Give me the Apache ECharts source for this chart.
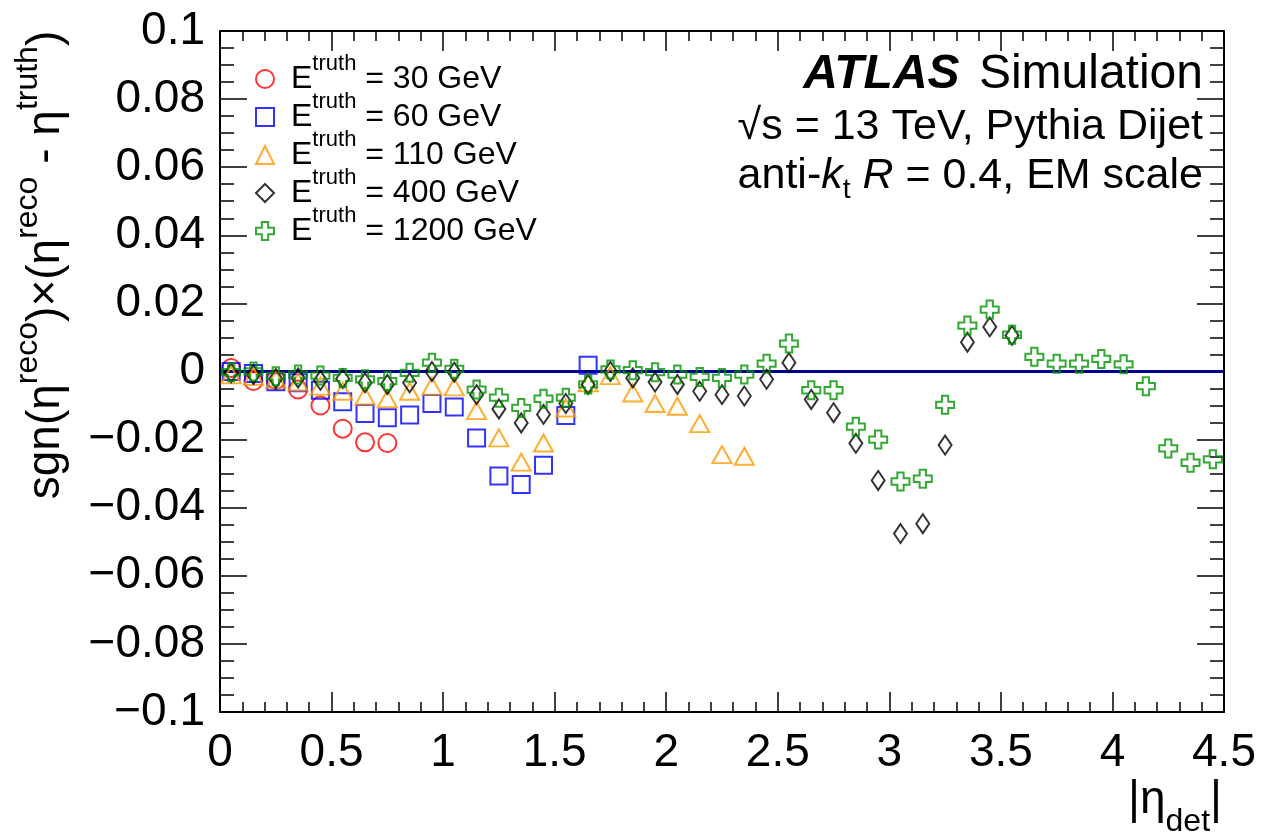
<!DOCTYPE html>
<html><head><meta charset="utf-8">
<script src="https://cdn.jsdelivr.net/npm/echarts@6/dist/echarts.min.js"></script>
<style>html,body{margin:0;padding:0;background:#fff}#c{width:1287px;height:838px}</style>
</head><body><div id="c"></div>
<script>
// |eta_det| bin centres
const etaBins = [0.05,0.15,0.25,0.35,0.45,0.55,0.65,0.75,0.85,0.95,
                 1.05,1.15,1.25,1.35,1.45,1.55,1.65,1.75,1.85,1.95,
                 2.05,2.15,2.25,2.35,2.45,2.55,2.65,2.75,2.85,2.95,
                 3.05,3.15,3.25,3.35,3.45,3.55,3.65,3.75,3.85,3.95,
                 4.05,4.15,4.25,4.35,4.45];
const energies = ['30', '60', '110', '400', '1200'];
// sgn(eta_reco) x (eta_reco - eta_truth), one value per bin from the first bin on
const resp30 = [0.0010,-0.0028,-0.0025,-0.0053,-0.0100,-0.0168,-0.0208,-0.0210];
const resp60 = [0.0000,-0.0006,-0.0030,-0.0033,-0.0055,-0.0089,-0.0123,-0.0136,-0.0128,-0.0094,
                -0.0104,-0.0195,-0.0307,-0.0332,-0.0275,-0.0129,0.0018];
const resp110 = [-0.0010,-0.0014,-0.0023,-0.0031,-0.0043,-0.0058,-0.0072,-0.0080,-0.0058,-0.0043,
                 -0.0045,-0.0115,-0.0195,-0.0266,-0.0210,-0.0107,-0.0033,-0.0012,-0.0063,-0.0094,
                 -0.0102,-0.0153,-0.0244,-0.0249];
const resp400 = [-0.0004,-0.0009,-0.0021,-0.0019,-0.0026,-0.0021,-0.0033,-0.0038,-0.0033,0.0000,
                 -0.0002,-0.0068,-0.0110,-0.0151,-0.0126,-0.0094,-0.0038,0.0000,-0.0019,-0.0031,
                 -0.0038,-0.0058,-0.0068,-0.0072,-0.0023,0.0026,-0.0082,-0.0121,-0.0211,-0.0320,
                 -0.0476,-0.0447,-0.0216,0.0086,0.0131,0.0106];
const resp1200 = [-0.0002,0.0000,-0.0014,-0.0009,-0.0012,-0.0019,-0.0023,-0.0028,-0.0004,0.0026,
                  0.0008,-0.0053,-0.0077,-0.0107,-0.0080,-0.0077,-0.0038,0.0006,0.0004,-0.0002,
                  -0.0009,-0.0016,-0.0019,-0.0009,0.0023,0.0082,-0.0055,-0.0055,-0.0162,-0.0200,
                  -0.0323,-0.0315,-0.0098,0.0135,0.0182,0.0108,0.0043,0.0023,0.0023,0.0037,
                  0.0021,-0.0043,-0.0226,-0.0268,-0.0258];
const xTicks = { min: 0, max: 4.5, step: 0.5 };
const yTicks = { min: -0.1, max: 0.1, step: 0.02 };

const FONT = 'Liberation Sans';
const crossPath = 'path://M6.5,0H13.5V6.5H20V13.5H13.5V20H6.5V13.5H0V6.5H6.5Z';
const styles = [
  { symbol: 'circle', size: 18, color: '#ff0000' },
  { symbol: 'rect', size: 17, color: '#0000ff' },
  { symbol: 'triangle', size: [19, 17], color: '#ff9900' },
  { symbol: 'diamond', size: [13, 19], color: '#000000' },
  { symbol: crossPath, size: 18, color: '#009400' }
];
const values = [resp30, resp60, resp110, resp400, resp1200];

const series = values.map((vals, k) => ({
  name: energies[k],
  type: 'scatter',
  symbol: styles[k].symbol,
  symbolSize: styles[k].size,
  itemStyle: { color: 'rgba(255,255,255,0)', borderColor: styles[k].color, borderWidth: 2 },
  emphasis: { disabled: true },
  silent: true,
  z: 3 + k,
  data: vals.map((v, i) => [etaBins[i], v]),
  markLine: k === 0 ? {
    silent: true, symbol: ['none', 'none'], label: { show: false },
    lineStyle: { color: '#000090', width: 3, type: 'solid' },
    data: [{ yAxis: 0 }], z: 2
  } : undefined
}));

const axisCommon = {
  type: 'value',
  axisLine: { show: true, onZero: false, lineStyle: { color: '#000', width: 2 } },
  splitLine: { show: false }
};
const xFmt = v => String(Math.round(v * 10) / 10);
const yFmt = v => { const r = Math.round(v * 1000) / 1000; if (r === 0) return '0'; return (r < 0 ? '\u2212' : '') + String(Math.abs(r)); };

const chart = echarts.init(document.getElementById('c'), null, { renderer: 'canvas' });
chart.setOption({
  animation: false,
  backgroundColor: '#fff',
  grid: { left: 220, right: 63, top: 31, bottom: 126 },
  xAxis: [
    Object.assign({}, axisCommon, {
      position: 'bottom', min: xTicks.min, max: xTicks.max, interval: xTicks.step,
      axisTick: { show: true, inside: true, length: 20, lineStyle: { color: '#000', width: 1.5 } },
      minorTick: { show: true, splitNumber: 5, length: 10, lineStyle: { color: '#000', width: 1.5 } },
      axisLabel: { show: true, color: '#000', fontFamily: FONT, fontSize: 46, margin: 18, formatter: xFmt, showMinLabel: true, showMaxLabel: true }
    }),
    Object.assign({}, axisCommon, {
      position: 'top', min: xTicks.min, max: xTicks.max, interval: xTicks.step,
      axisTick: { show: true, inside: true, length: 20, lineStyle: { color: '#000', width: 1.5 } },
      minorTick: { show: true, splitNumber: 5, length: 10, lineStyle: { color: '#000', width: 1.5 } },
      axisLabel: { show: false }
    })
  ],
  yAxis: [
    Object.assign({}, axisCommon, {
      position: 'left', min: yTicks.min, max: yTicks.max, interval: yTicks.step,
      axisTick: { show: true, inside: true, length: 27, lineStyle: { color: '#000', width: 1.5 } },
      minorTick: { show: true, splitNumber: 4, length: 14, lineStyle: { color: '#000', width: 1.5 } },
      axisLabel: { show: true, color: '#000', fontFamily: FONT, fontSize: 46, margin: 15, formatter: yFmt, showMinLabel: true, showMaxLabel: true }
    }),
    Object.assign({}, axisCommon, {
      position: 'right', min: yTicks.min, max: yTicks.max, interval: yTicks.step,
      axisTick: { show: true, inside: true, length: 27, lineStyle: { color: '#000', width: 1.5 } },
      minorTick: { show: true, splitNumber: 4, length: 14, lineStyle: { color: '#000', width: 1.5 } },
      axisLabel: { show: false }
    })
  ],
  legend: {
    show: true, orient: 'vertical', left: 255, top: 53, padding: 0,
    itemWidth: 18, itemHeight: 18, itemGap: -4,
    selectedMode: false,
    data: energies,
    formatter: n => '{e|E}{s|truth}{m| = ' + n + ' GeV}',
    textStyle: {
      color: '#000', fontFamily: FONT,
      rich: {
        e: { fontSize: 32, lineHeight: 52, verticalAlign: 'middle', padding: [0, 0, 0, 12], fontFamily: FONT, color: '#000' },
        s: { fontSize: 22, verticalAlign: 'top', fontFamily: FONT, color: '#000' },
        m: { fontSize: 32, lineHeight: 52, verticalAlign: 'middle', fontFamily: FONT, color: '#000' }
      }
    }
  },
  graphic: [
    { type: 'text', x: 1203, y: 75, silent: true,
      style: { text: '{b|ATLAS} {r|Simulation}', align: 'right', verticalAlign: 'middle', fill: '#000',
        fontSize: 48, fontFamily: FONT,
        rich: { b: { fontSize: 48, fontWeight: 'bold', fontStyle: 'italic', fontFamily: FONT, fill: '#000', padding: [0, 6, 0, 0] },
                r: { fontSize: 48, fontFamily: FONT, fill: '#000' } } } },
    { type: 'text', x: 1203, y: 127, silent: true,
      style: { text: '\u221As = 13 TeV, Pythia Dijet', align: 'right', verticalAlign: 'middle', fill: '#000', fontSize: 43, fontFamily: FONT } },
    { type: 'text', x: 1203, y: 176, silent: true,
      style: { text: '{m|anti-}{i|k}{t|t}{m| }{i|R}{m| = 0.4, EM scale}', align: 'right', verticalAlign: 'middle', fill: '#000',
        fontSize: 43, fontFamily: FONT,
        rich: { m: { fontSize: 43, lineHeight: 56, verticalAlign: 'middle', fontFamily: FONT, fill: '#000' },
                i: { fontSize: 43, lineHeight: 56, verticalAlign: 'middle', fontStyle: 'italic', fontFamily: FONT, fill: '#000' },
                t: { fontSize: 28, verticalAlign: 'bottom', fontFamily: FONT, fill: '#000' } } } },
    { type: 'text', x: 46, y: 265, rotation: Math.PI / 2, silent: true,
      style: { text: '{m|sgn(\u03B7}{s|reco}{m|)\u00D7(\u03B7}{s|reco}{m| - \u03B7}{s|truth}{m|)}', align: 'center', verticalAlign: 'middle', fill: '#000',
        fontSize: 46, fontFamily: FONT,
        rich: { m: { fontSize: 46, lineHeight: 68, verticalAlign: 'middle', fontFamily: FONT, fill: '#000' },
                s: { fontSize: 32, verticalAlign: 'top', fontFamily: FONT, fill: '#000' } } } },
    { type: 'text', x: 1222, y: 800, silent: true,
      style: { text: '{m||\u03B7}{d|det}{m||}', align: 'right', verticalAlign: 'middle', fill: '#000',
        fontSize: 46, fontFamily: FONT,
        rich: { m: { fontSize: 46, lineHeight: 76, verticalAlign: 'middle', fontFamily: FONT, fill: '#000' },
                d: { fontSize: 32, verticalAlign: 'bottom', fontFamily: FONT, fill: '#000' } } } }
  ],
  series: series
});
</script>
</body></html>
